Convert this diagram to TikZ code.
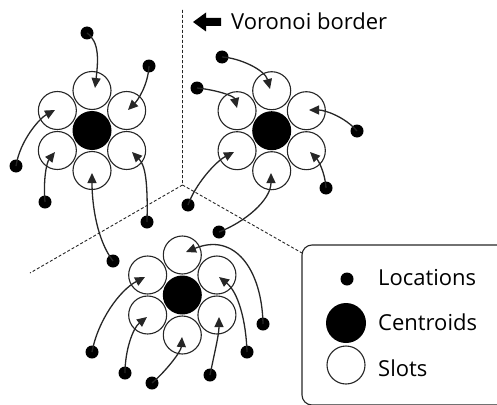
\documentclass[tikz,border=0pt]{standalone}
\usepackage{fontspec}
\setmainfont{Open Sans}
\usetikzlibrary{arrows.meta,calc}
\tikzset{
  slot/.style={circle,draw=black!85,line width=1.1pt,fill=white,minimum size=38pt,inner sep=0pt},
  centroid/.style={circle,fill=black,minimum size=39pt,inner sep=0pt},
  loc/.style={circle,fill=black,minimum size=13pt,inner sep=0pt},
  link/.style={draw=black!85,line width=1.3pt,-{Triangle[length=10pt,width=9pt]}},
  border/.style={draw=black!85,line width=0.9pt,dash pattern=on 3pt off 2pt},
  lbl/.style={font=\fontsize{22}{26}\selectfont,inner sep=0pt}
}
\begin{document}
\begin{tikzpicture}[x=1pt,y=-1pt]
\useasboundingbox (0,0) rectangle (497,404);
% Voronoi borders
\coordinate (vtop) at (182.5,10);
\coordinate (vmid) at (182.5,185);
\coordinate (vleft) at (30,273);
\coordinate (vright) at (302,253);
\draw[border] (vtop) -- (vmid) -- (vleft);
\draw[border] (vmid) -- (vright);
% legend box
\draw[draw=black!85,line width=1.1pt,rounded corners=10pt] (302,245) rectangle (520,405);
% block arrow + label
\fill[black] (193,22) -- (206,12.5) -- (206,18) -- (221,18) -- (221,26) -- (206,26) -- (206,31.5) -- cycle;
\node[lbl,anchor=base west] (vlabel) at (231,29.5) {Voronoi border};
% clusters
\foreach \n/\cx/\cy in {A/92/130.5, B/271.7/130.7, C/182.3/295}{
  \foreach \s/\a in {T/90,UR/30,LR/-30,Bt/-90,LL/-150,UL/150}{
    \node[slot] (\n\s) at ($(\cx,\cy)+(\a:40 and -40)$) {};
  }
  \node[centroid] (\n c) at (\cx,\cy) {};
}
% --- cluster A
\node[loc] (a1) at (87,33) {};   \coordinate (ta1) at (95,88);
\node[loc] (a2) at (149,66) {};  \coordinate (ta2) at (128,110);
\node[loc] (a3) at (16,166) {};  \coordinate (ta3) at (55,110);
\node[loc] (a4) at (45,202) {};  \coordinate (ta4) at (55,152);
\node[loc] (a5) at (113,261) {}; \coordinate (ta5) at (92,173);
\node[loc] (a6) at (147,222) {}; \coordinate (ta6) at (132,152);
\draw[link] (a1.center) .. controls +(13,9) and +(3,-26) .. (ta1);
\draw[link] (a2.center) .. controls +(-1,19) and +(10,-10) .. (ta2);
\draw[link] (a3.center) .. controls +(4,-26) and +(-15,8) .. (ta3);
\draw[link] (a4.center) .. controls +(-2,-24) and +(-8,10) .. (ta4);
\draw[link] (a5.center) .. controls +(-16,-21) and +(0,32) .. (ta5);
\draw[link] (a6.center) .. controls +(1,-42) and +(13,13) .. (ta6);
% --- cluster B
\node[loc] (b1) at (222,57) {};  \coordinate (tb1) at (270,89);
\node[loc] (b2) at (197,88) {};  \coordinate (tb2) at (237,108);
\node[loc] (b3) at (357,131) {}; \coordinate (tb3) at (309,110);
\node[loc] (b4) at (326,188) {}; \coordinate (tb4) at (310,152);
\node[loc] (b5) at (188,205) {}; \coordinate (tb5) at (234,152);
\node[loc] (b6) at (219,232) {}; \coordinate (tb6) at (271,173);
\draw[link] (b1.center) .. controls +(18,1) and +(-5,-19) .. (tb1);
\draw[link] (b2.center) .. controls +(20,2) and +(-3,-12) .. (tb2);
\draw[link] (b3.center) .. controls +(-12,-14) and +(16,0) .. (tb3);
\draw[link] (b4.center) .. controls +(-1,-16) and +(8,8) .. (tb4);
\draw[link] (b5.center) .. controls +(7,-20) and +(-19,10) .. (tb5);
\draw[link] (b6.center) .. controls +(26,-10) and +(0,27) .. (tb6);
% --- cluster C
\node[loc] (c1) at (263,324) {}; \coordinate (tc1) at (186,252);
\node[loc] (c2) at (247,352) {}; \coordinate (tc2) at (219,277);
\node[loc] (c3) at (210,375) {}; \coordinate (tc3) at (219,317);
\node[loc] (c4) at (152,383) {}; \coordinate (tc4) at (182,337);
\node[loc] (c5) at (125,373) {}; \coordinate (tc5) at (147,317);
\node[loc] (c6) at (92,352) {};  \coordinate (tc6) at (145,277);
\draw[link] (c1.center) .. controls +(-1,-54) and +(49,-20) .. (tc1);
\draw[link] (c2.center) .. controls +(-1,-32) and +(19,15) .. (tc2);
\draw[link] (c3.center) .. controls +(4,-20) and +(0,18) .. (tc3);
\draw[link] (c4.center) .. controls +(13,-11) and +(-1,15) .. (tc4);
\draw[link] (c5.center) .. controls +(0,-23) and +(-14,11) .. (tc5);
\draw[link] (c6.center) .. controls +(6,-32) and +(-25,13) .. (tc6);
% legend
\node[loc] (lg1) at (347,279) {};
\node[centroid,minimum size=40pt] (lg2) at (346,323) {};
\node[slot] (lg3) at (346,365) {};
\node[lbl,anchor=base west] (lt1) at (378,285) {Locations};
\node[lbl,anchor=base west] (lt2) at (378,330) {Centroids};
\node[lbl,anchor=base west] (lt3) at (378,376) {Slots};
\end{tikzpicture}
\end{document}
